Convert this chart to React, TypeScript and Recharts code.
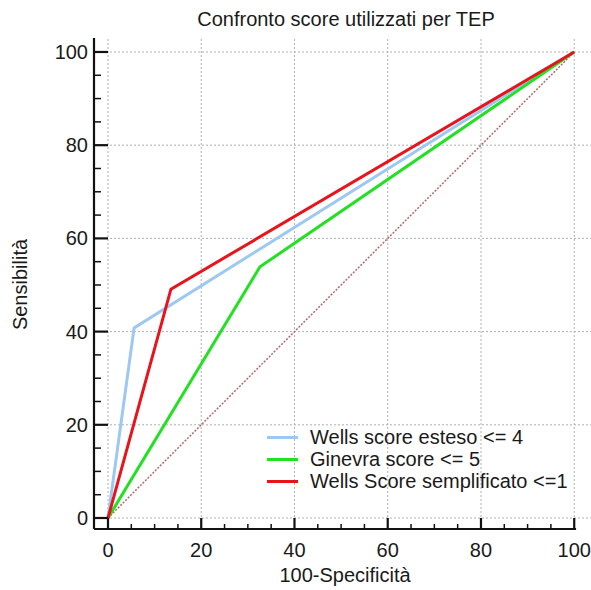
import React from 'react';
import { LineChart, Line, XAxis, YAxis, ReferenceLine } from 'recharts';

const wellsEsteso = [
  { x: 0, y: 0 },
  { x: 5.6, y: 40.8 },
  { x: 100, y: 100 },
];
const ginevra = [
  { x: 0, y: 0 },
  { x: 32.6, y: 53.9 },
  { x: 100, y: 100 },
];
const wellsSemplificato = [
  { x: 0, y: 0 },
  { x: 13.5, y: 49.1 },
  { x: 100, y: 100 },
];
const diagonal = [
  { x: 0, y: 0 },
  { x: 100, y: 100 },
];

const tickValues = [0, 5, 10, 15, 20, 25, 30, 35, 40, 45, 50, 55, 60, 65, 70, 75, 80, 85, 90, 95, 100];
const majorTicks = [0, 20, 40, 60, 80, 100];

const series = [
  { name: 'Wells score esteso <= 4', data: wellsEsteso, color: '#9dc8f2' },
  { name: 'Ginevra score <= 5', data: ginevra, color: '#22e022' },
  { name: 'Wells Score semplificato <=1', data: wellsSemplificato, color: '#e8141c' },
];

const FONT = '"Liberation Sans", Arial, sans-serif';
const TEXT = '#1a1a1a';
const FS = 20;

const YTick = (props: any) => {
  const { x, y, payload } = props;
  const major = payload.value % 20 === 0;
  return (
    <g>
      <line x1={x} x2={x + (major ? 14 : 7)} y1={y} y2={y} stroke="#111" strokeWidth={major ? 2.2 : 1.5} />
      {major && (
        <text x={x - 6} y={y} dy={7} textAnchor="end" fontSize={FS} fontFamily={FONT} fill={TEXT}>
          {payload.value}
        </text>
      )}
    </g>
  );
};

const XTick = (props: any) => {
  const { x, y, payload } = props;
  const major = payload.value % 20 === 0;
  return (
    <g>
      <line x1={x} x2={x} y1={y} y2={y - (major ? 11 : 5)} stroke="#111" strokeWidth={major ? 2.2 : 1.5} />
      {major && (
        <text x={x} y={y + 28} textAnchor="middle" fontSize={FS} fontFamily={FONT} fill={TEXT}>
          {payload.value}
        </text>
      )}
    </g>
  );
};

export default function App() {
  return (
    <div style={{ position: 'absolute', left: 0, top: 0, width: 591, height: 590, background: '#fff' }}>
      <LineChart
        width={591}
        height={590}
        margin={{ top: 38, right: 0, bottom: 0, left: 0 }}
        style={{ position: 'absolute', left: 0, top: 0 }}
      >
        <XAxis
          type="number"
          dataKey="x"
          domain={[-3, 103.6]}
          allowDataOverflow
          ticks={tickValues}
          interval={0}
          tickSize={0}
          tickMargin={0}
          axisLine={false}
          tickLine={false}
          tick={<XTick />}
          height={61}
        />
        <YAxis
          type="number"
          dataKey="y"
          domain={[-2.36, 103]}
          allowDataOverflow
          ticks={tickValues}
          interval={0}
          tickSize={0}
          tickMargin={0}
          axisLine={{ stroke: '#111', strokeWidth: 2.2 }}
          tickLine={false}
          tick={<YTick />}
          width={94}
        />
        {majorTicks.map((m) => (
          <ReferenceLine key={'gx' + m} x={m} stroke="#b0b0b0" strokeDasharray="2 2" strokeWidth={1} />
        ))}
        {majorTicks.map((m) => (
          <ReferenceLine key={'gy' + m} y={m} stroke="#b0b0b0" strokeDasharray="2 2" strokeWidth={1} />
        ))}
        <ReferenceLine
          segment={[{ x: -3, y: -2.36 }, { x: 100.4, y: -2.36 }]}
          stroke="#111"
          strokeWidth={2.2}
        />
        <Line
          data={diagonal}
          dataKey="y"
          stroke="#b06a6a"
          strokeWidth={1.5}
          strokeDasharray="2 1.5"
          dot={false}
          legendType="none"
          isAnimationActive={false}
        />
        {series.map((s) => (
          <Line
            key={s.name}
            name={s.name}
            data={s.data}
            dataKey="y"
            stroke={s.color}
            strokeWidth={3}
            dot={false}
            isAnimationActive={false}
          />
        ))}
      </LineChart>
      <div
        style={{
          position: 'absolute', left: 0, width: 692, top: 8, textAlign: 'center',
          fontFamily: FONT, fontSize: FS, color: TEXT, lineHeight: '23px',
        }}
      >
        Confronto score utilizzati per TEP
      </div>
      <div
        style={{
          position: 'absolute', left: 0, width: 690, top: 564, textAlign: 'center',
          fontFamily: FONT, fontSize: FS, color: TEXT, lineHeight: '23px',
        }}
      >
        100-Specificità
      </div>
      <div style={{ position: 'absolute', left: 20, top: 284, width: 0, height: 0 }}>
        <div
          style={{
            position: 'absolute', left: -100, top: -11.5, width: 200, textAlign: 'center',
            transform: 'rotate(-90deg)', fontFamily: FONT, fontSize: FS, color: TEXT, lineHeight: '23px',
          }}
        >
          Sensibilità
        </div>
      </div>
      <div
        style={{
          position: 'absolute', left: 267, top: 426, fontFamily: FONT, fontSize: FS, color: TEXT,
        }}
      >
        {series.map((s) => (
          <div key={s.name} style={{ display: 'flex', alignItems: 'center', height: 22, lineHeight: '22px' }}>
            <div style={{ width: 31, height: 3, background: s.color, marginRight: 12 }} />
            <span style={{ whiteSpace: 'nowrap' }}>{s.name}</span>
          </div>
        ))}
      </div>
    </div>
  );
}
